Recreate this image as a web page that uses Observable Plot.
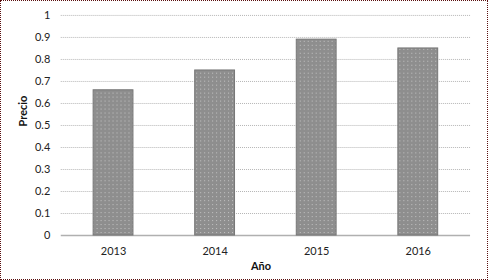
<!DOCTYPE html>
<html>
<head>
<meta charset="utf-8">
<script src="https://cdn.jsdelivr.net/npm/d3@7"></script>
<script src="https://cdn.jsdelivr.net/npm/@observablehq/plot@0.6"></script>
<style>
  html, body { margin: 0; padding: 0; background: #fff; }
  #chart { width: 488px; height: 280px; box-sizing: border-box; border: 1px dotted #5a1010; position: relative; overflow: hidden; }
  #chart svg { position: absolute; left: -1px; top: -1px; }
</style>
</head>
<body>
<div id="chart"></div>
<script>
const years = ["2013", "2014", "2015", "2016"];
const prices = [0.66, 0.75, 0.89, 0.85];
const yTicks = [0, 0.1, 0.2, 0.3, 0.4, 0.5, 0.6, 0.7, 0.8, 0.9, 1];
const xLabel = "Año";
const yLabel = "Precio";

const data = years.map((y, i) => ({year: y, price: prices[i]}));
const font = "Lato, 'Open Sans', sans-serif";

const chart = Plot.plot({
  width: 488,
  height: 280,
  marginTop: 15,
  marginBottom: 44,
  marginLeft: 61,
  marginRight: 16,
  style: {fontFamily: font, fontSize: "11px", color: "#222", background: "transparent"},
  x: {domain: years, paddingInner: 0.6, paddingOuter: 0.3, label: null},
  y: {domain: [0, 1], label: null},
  marks: [
    Plot.gridY(yTicks.slice(1), {stroke: "#b4b4b4", strokeOpacity: 1, strokeDasharray: "1,1"}),
    Plot.ruleY([0], {stroke: "#b0b0b0", strokeWidth: 1.5}),
    Plot.barY(data, {x: "year", y: "price", fill: "url(#dotpat)", stroke: "#767676", strokeWidth: 1, insetLeft: 0.5, insetRight: 0.5}),
    Plot.axisY({ticks: yTicks, tickSize: 0, tickPadding: 11, tickFormat: d => String(+d.toFixed(1)), fill: "#222"}),
    Plot.axisX({tickSize: 0, tickPadding: 12, fill: "#222"}),
    Plot.text([yLabel], {frameAnchor: "left", dx: -38, dy: 1, rotate: -90, fontWeight: "bold", fontSize: 11, fill: "#111"}),
    Plot.text([xLabel], {frameAnchor: "bottom", dy: 34.5, dx: -5, fontWeight: "bold", fontSize: 11, fill: "#111"})
  ]
});

const ns = "http://www.w3.org/2000/svg";
const defs = document.createElementNS(ns, "defs");
defs.innerHTML = '<pattern id="dotpat" width="4" height="4" patternUnits="userSpaceOnUse">' +
  '<rect width="4" height="4" fill="#8e8e8e"></rect>' +
  '<rect x="1" y="1" width="1" height="1" fill="#c4c4c4"></rect>' +
  '</pattern>';
chart.insertBefore(defs, chart.firstChild);
document.getElementById("chart").appendChild(chart);
</script>
</body>
</html>
